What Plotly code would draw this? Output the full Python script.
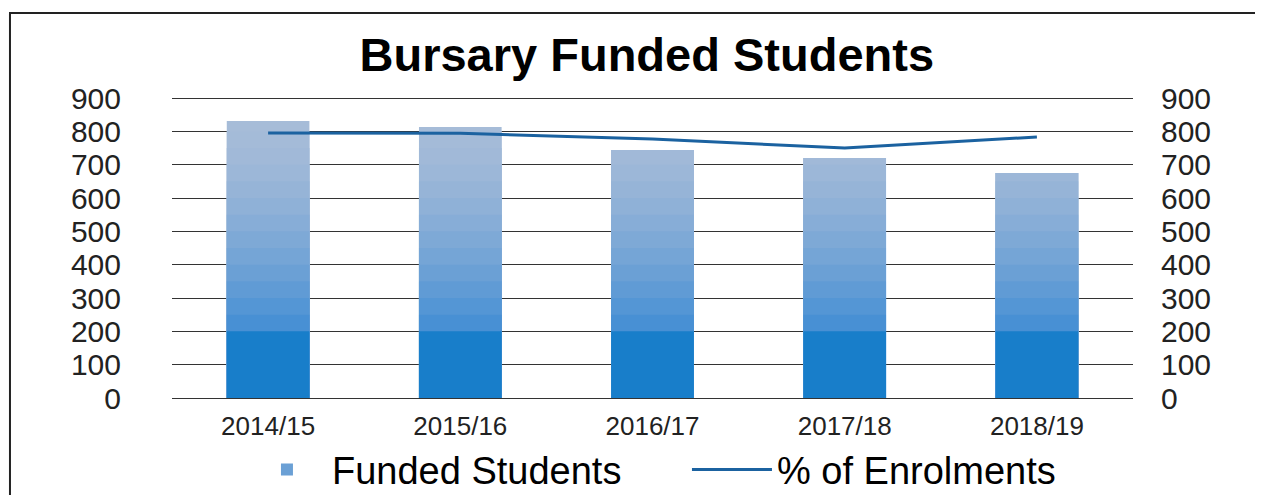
import plotly.graph_objects as go

years = ['2014/15', '2015/16', '2016/17', '2017/18', '2018/19']
funded_students = [831, 813, 744, 720, 675]
pct_enrolments = [795, 794, 777, 750, 783]
axis_ticks = [0, 100, 200, 300, 400, 500, 600, 700, 800, 900]

FONT = 'Arial, Liberation Sans, sans-serif'

# the original bars have a vertical gradient, fake it with overlaid bars cut at levels
band_levels = [None, 800, 750, 700, 650, 600, 550, 500, 450, 400, 350, 300, 250]
top_rgb = (166, 188, 216)
low_rgb = (72, 144, 212)
dark_rgb = (24, 126, 202)


def mix(a, b, t):
    return 'rgb(%d,%d,%d)' % tuple(round(a[i] + (b[i] - a[i]) * t) for i in range(3))


fig = go.Figure()
n = len(band_levels)
for i, lvl in enumerate(band_levels):
    vals = funded_students if lvl is None else [min(v, lvl) for v in funded_students]
    t = (i / (n - 1)) ** 1.6
    fig.add_trace(go.Bar(x=years, y=vals, marker=dict(color=mix(top_rgb, low_rgb, t), line=dict(width=0)),
                         name='Funded Students', showlegend=(lvl == 400), hoverinfo='skip'))
fig.add_trace(go.Bar(x=years, y=[min(v, 200) for v in funded_students],
                     marker=dict(color=mix(dark_rgb, dark_rgb, 0), line=dict(width=0)),
                     name='Funded Students', showlegend=False))

fig.add_trace(go.Scatter(x=years, y=pct_enrolments, yaxis='y2', mode='lines',
                         line=dict(color='#1b62a0', width=3), name='% of Enrolments'))

# chart frame (left and top edges show in the picture)
fig.add_shape(type='rect', xref='paper', yref='paper', x0=-0.1686, x1=1.16, y0=-0.4, y1=1.2748,
              line=dict(color='#222', width=2), fillcolor='rgba(0,0,0,0)', layer='below')

# page body has an 8px margin, so the figure is a bit smaller than the window
fig.update_layout(
    width=1255, height=487,
    margin=dict(l=164, r=130, t=88, b=97, autoexpand=False),
    paper_bgcolor='white', plot_bgcolor='white',
    font=dict(family=FONT, color='black'),
    title=dict(text='<b>Bursary Funded Students</b>', x=0.509, xanchor='center', y=0.9035, yanchor='middle',
               font=dict(size=47, family=FONT, color='black')),
    barmode='overlay', bargap=0.57,
    xaxis=dict(showgrid=False, showline=False, ticks='outside', ticklen=5, tickcolor='rgba(0,0,0,0)',
               tickfont=dict(size=26, family=FONT, color='#222'), automargin=False),
    yaxis=dict(range=[0, 906], tickvals=axis_ticks, showgrid=True, gridcolor='#333', gridwidth=1.3,
               zeroline=True, zerolinecolor='#333', zerolinewidth=1.3, showline=False,
               ticks='outside', ticklen=44, tickcolor='rgba(0,0,0,0)', automargin=False,
               tickfont=dict(size=30, family=FONT, color='#222')),
    yaxis2=dict(range=[0, 906], tickvals=axis_ticks, overlaying='y', side='right', showgrid=False,
                zeroline=False, showline=False, ticks='outside', ticklen=21, tickcolor='rgba(0,0,0,0)',
                automargin=False, tickfont=dict(size=30, family=FONT, color='#222')),
    legend=dict(orientation='h', x=0.0728, xanchor='left', y=-0.238, yanchor='middle',
                font=dict(size=38, family=FONT, color='black'), itemwidth=80,
                entrywidth=350, entrywidthmode='pixels', bgcolor='rgba(0,0,0,0)'),
    showlegend=True,
)

fig.write_html('out.html')
